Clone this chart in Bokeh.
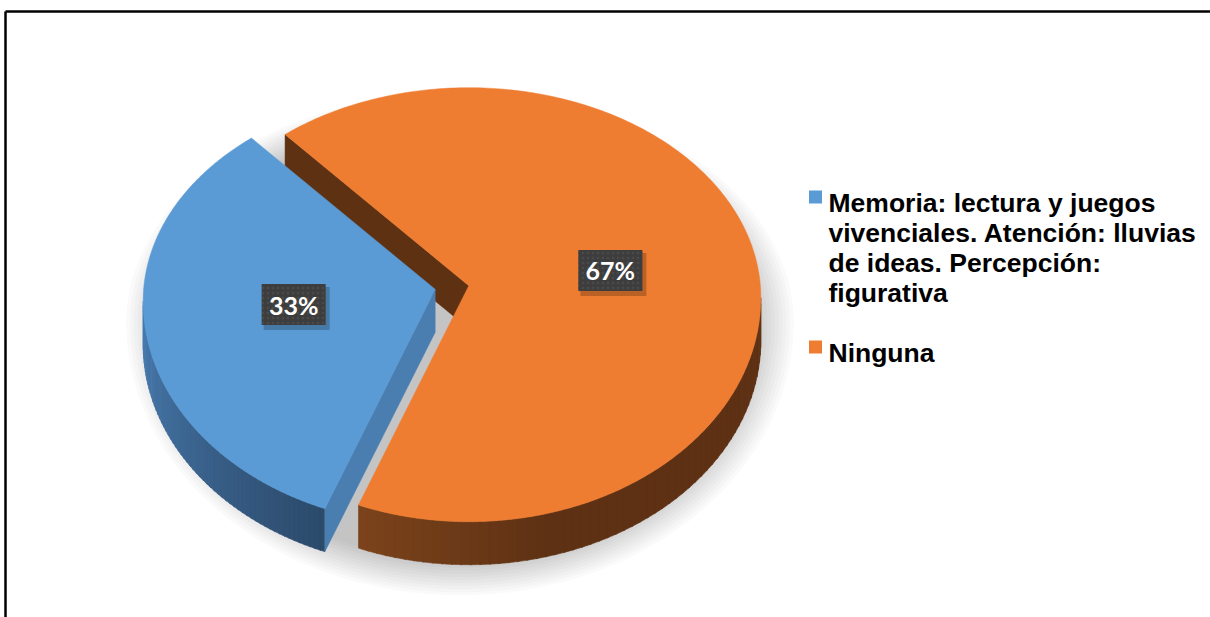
import numpy as np
from bokeh.plotting import figure
from bokeh.models import Range1d
from bokeh.core.properties import value
from bokeh.embed import file_html
from bokeh.resources import INLINE

# ---------------- data ----------------
categories = ["Memoria: lectura  y juegos vivenciales. Atención: lluvias de ideas. Percepción: figurativa",
              "Ninguna"]
legend_lines = [["Memoria: lectura  y juegos", "vivenciales. Atención: lluvias", "de ideas. Percepción:", "figurativa"],
                ["Ninguna"]]
values = [33, 67]
top_colors = ["#5b9bd5", "#ef7d31"]
side_dark = ["#2c4a6a", "#5e3114"]
side_light = ["#4a7db2", "#7b431b"]
radial_colors = ["#4a7eb1", "#5e3113"]

# ---------------- layout constants ----------------
W, H = 1210, 617
X0, Y0 = 0, 0
CX, CY = 451.5, 287.0      # pie vertex (unexploded), page px
OFF = 12.0                 # ellipse centre below vertex (perspective)
RX, RY_TOP, RY_BOT = 292.0, 210.0, 224.0
DEPTH = 43.0
EXPLODE = 17.0
START = 129.0

p = figure(width=W, height=H, output_backend="svg", toolbar_location=None,
           x_range=Range1d(X0, X0 + W), y_range=Range1d(Y0 + H, Y0),
           min_border=0, outline_line_color=None, background_fill_color="white")
p.axis.visible = False
p.grid.visible = False


def ell(cx, cy, t_deg, rx=RX, ryt=RY_TOP, ryb=RY_BOT, off=OFF):
    t = np.radians(t_deg)
    s = np.sin(t)
    ry = np.where(s > 0, ryt, ryb)
    return cx + rx * np.cos(t), cy + off - ry * s


def mix(c1, c2, f):
    a = np.array([int(c1[i:i + 2], 16) for i in (1, 3, 5)])
    b = np.array([int(c2[i:i + 2], 16) for i in (1, 3, 5)])
    c = (a + (b - a) * f).round().astype(int)
    return "#%02x%02x%02x" % tuple(c)


# ---------------- shadow ----------------
sh_cx, sh_cy = CX + 8, CY + 35
for k in range(12):
    sc = 1.07 - k * 0.012
    tt = np.linspace(0, 360, 241)
    xs, ys = ell(sh_cx, sh_cy, tt, rx=312 * sc, ryt=215 * sc, ryb=255 * sc, off=0)
    p.patch(list(xs), list(ys), fill_color="black", fill_alpha=0.021, line_color=None)

# ---------------- slices ----------------
total = float(sum(values))
angles = []
a = START
for v in values:
    span = 360.0 * v / total
    angles.append((a, a + span))
    a += span

vertices = []
for (a0, a1) in angles:
    m = np.radians((a0 + a1) / 2)
    vertices.append((CX + EXPLODE * np.cos(m), CY - EXPLODE * (RY_TOP / RX) * np.sin(m)))


def draw_slice(i):
    a0, a1 = angles[i]
    vx, vy = vertices[i]
    segs = []
    for base in (0.0, 360.0):
        s0, s1 = max(a0, base + 180.0), min(a1, base + 360.0)
        if s1 > s0:
            segs.append((s0, s1))
    for (s0, s1) in segs:
        n = 60
        edges = np.linspace(s0, s1, n + 1)
        for j in range(n):
            tt = np.linspace(edges[j], edges[j + 1] + 0.3 * (j < n - 1), 4)
            xs, ys = ell(vx, vy, tt)
            px = list(xs) + list(xs[::-1])
            py = list(ys) + list((ys + DEPTH)[::-1])
            f = (edges[j] - s0) / max(s1 - s0, 1e-9)
            if i == 0:
                col = mix(side_light[i], side_dark[i], f)
            else:
                col = mix(side_light[i], side_dark[i], min(1.0, f * 3.0))
            p.patch(px, py, fill_color=col, line_color=col, line_width=0.6)
    # radial face visible at end angle
    ex, ey = ell(vx, vy, np.array([a1]))
    p.patch([vx, float(ex[0]), float(ex[0]), vx],
            [vy, float(ey[0]), float(ey[0]) + DEPTH, vy + DEPTH],
            fill_color=radial_colors[i], line_color=radial_colors[i], line_width=0.5)
    # top face
    tt = np.linspace(a0, a1, 300)
    xs, ys = ell(vx, vy, tt)
    p.patch([vx] + list(xs), [vy] + list(ys), fill_color=top_colors[i],
            line_color=top_colors[i], line_width=0.5)


draw_slice(1)
draw_slice(0)

# ---------------- data labels ----------------
lab_x, lab_y, lab_t = [], [], []
for i, (a0, a1) in enumerate(angles):
    m = np.radians((a0 + a1) / 2)
    vx, vy = vertices[i]
    lab_x.append(vx + 0.49 * RX * np.cos(m))
    lab_y.append(vy - 0.5 * RY_TOP * np.sin(m))
    lab_t.append("%d%%" % round(100 * values[i] / total))

p.rect([x + 3 for x in lab_x], [y + 4 for y in lab_y], width=66, height=43,
       fill_color="black", fill_alpha=0.22, line_color=None)
p.rect(lab_x, lab_y, width=64, height=41, fill_color="#3d3d3d", line_color=None,
       hatch_pattern=".", hatch_color="#4a4a4a", hatch_scale=5, hatch_weight=1)
p.text(lab_x, lab_y, text=lab_t, text_color="white", text_font=value("Lato"),
       text_font_style="bold", text_font_size="25px", text_align="center",
       text_baseline="middle")

# ---------------- legend ----------------
LEG_X = 815
LEG_TEXT_X = 828
LINE_H = 30.3
leg_first_baseline = [202.0, 352.0]
for i, lines in enumerate(legend_lines):
    b0 = leg_first_baseline[i]
    p.rect([LEG_X], [b0 - 5.5], width=13, height=13, fill_color=top_colors[i], line_color=None)
    ys = [b0 + LINE_H * k for k in range(len(lines))]
    p.text([LEG_TEXT_X] * len(lines), ys, text=lines, text_color="black",
           text_font=value("Liberation Sans"), text_font_style="bold",
           text_font_size="26.5px", text_align="left", text_baseline="alphabetic")

# ---------------- chart frame ----------------
p.line([5, X0 + W], [11, 11], line_color="black", line_width=2.5)
p.line([5, 5], [11, Y0 + H], line_color="black", line_width=2.5)

open("out.html", "w").write(file_html(p, INLINE))
